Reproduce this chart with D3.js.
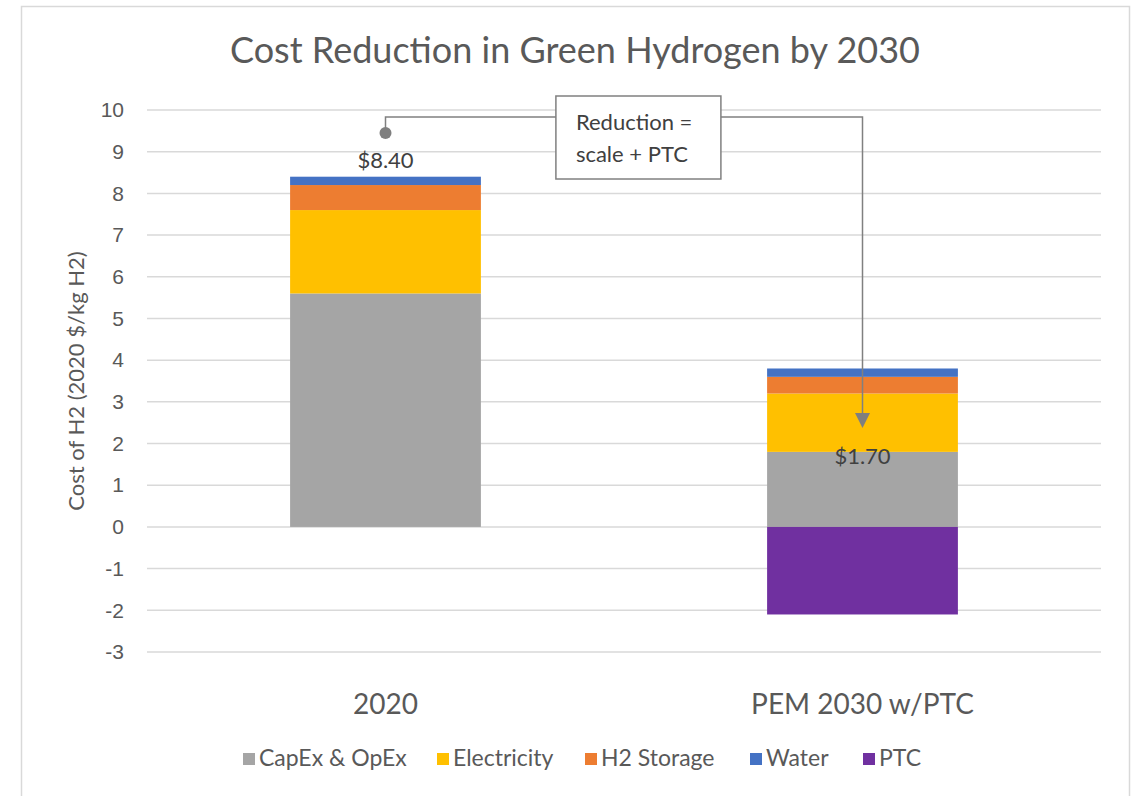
<!DOCTYPE html>
<html>
<head>
<meta charset="utf-8">
<script src="https://cdn.jsdelivr.net/npm/d3@7"></script>
<style>
  body { margin: 0; background: #fff; }
  svg { display: block; font-family: Lato, "Open Sans", sans-serif; }
</style>
</head>
<body>
<svg id="chart"></svg>
<script>
var categories = ["2020", "PEM 2030 w/PTC"];
var seriesNames = ["CapEx & OpEx", "Electricity", "H2 Storage", "Water", "PTC"];
var capex = [5.6, 1.8];
var electricity = [2.0, 1.4];
var storage = [0.6, 0.4];
var water = [0.2, 0.2];
var ptc = [0, -2.1];
var totalLabels = ["$8.40", "$1.70"];
var yTicks = [10, 9, 8, 7, 6, 5, 4, 3, 2, 1, 0, -1, -2, -3];
var colors = ["#a5a5a5", "#ffc000", "#ed7d31", "#4472c4", "#7030a0"];

var W = 1140, H = 796;
var margin = { top: 110, right: 39, bottom: 144, left: 147 },
  width = W - margin.left - margin.right,
  height = H - margin.top - margin.bottom;

var svg = d3.select("#chart").attr("width", W).attr("height", H);

// outer chart border
svg.append("rect")
  .attr("x", 21.5).attr("y", 6.5)
  .attr("width", 1108).attr("height", 800)
  .attr("fill", "none").attr("stroke", "#d9d9d9").attr("stroke-width", 1.5);

var g = svg.append("g")
  .attr("transform", "translate(" + margin.left + "," + margin.top + ")");

var x = d3.scaleBand()
  .domain(categories)
  .range([0, width])
  .paddingInner(0.6)
  .paddingOuter(0.3);
var y = d3.scaleLinear()
  .domain([-3, 10])
  .range([height, 0]);

// gridlines
g.append("g").selectAll("line")
    .data(yTicks)
  .enter().append("line")
    .attr("x1", 0).attr("x2", width)
    .attr("y1", function(d) { return y(d); })
    .attr("y2", function(d) { return y(d); })
    .attr("stroke", "#d9d9d9").attr("stroke-width", 1.5);

var yAxis = d3.axisLeft(y)
  .tickValues(yTicks)
  .tickFormat(function(d) { return String(d); })
  .tickSize(0).tickPadding(23);
g.append("g").call(yAxis)
  .call(function(a) { a.select(".domain").remove(); })
  .selectAll("text")
    .attr("fill", "#595959").style("font-size", "21px");

// stacked bars
var table = categories.map(function(c, i) {
  return { cat: c, vals: [capex[i], electricity[i], storage[i], water[i], ptc[i]] };
});
var rects = [];
table.forEach(function(row) {
  var pos = 0, neg = 0;
  row.vals.forEach(function(v, k) {
    if (v >= 0) { rects.push({ cat: row.cat, k: k, y0: pos, y1: pos + v }); pos += v; }
    else { rects.push({ cat: row.cat, k: k, y0: neg + v, y1: neg }); neg += v; }
  });
});
g.append("g").selectAll("rect")
    .data(rects.filter(function(d) { return d.y1 !== d.y0; }))
  .enter().append("rect")
    .attr("x", function(d) { return x(d.cat); })
    .attr("width", x.bandwidth())
    .attr("y", function(d) { return y(d.y1); })
    .attr("height", function(d) { return y(d.y0) - y(d.y1); })
    .attr("fill", function(d) { return colors[d.k]; });

// totals
var totals = table.map(function(r) { return d3.sum(r.vals); });
var labelShift = [-9, 8];
g.append("g").selectAll("text")
    .data(totals)
  .enter().append("text")
    .attr("x", function(d, i) { return x(categories[i]) + x.bandwidth() / 2; })
    .attr("y", function(d, i) { return y(d) + labelShift[i]; })
    .attr("text-anchor", "middle")
    .attr("fill", "#404040").style("font-size", "22px")
    .text(function(d, i) { return totalLabels[i]; });

// annotation: reduction arrow
var dotValue = 9.45, lineValue = 9.83, arrowValue = 2.37;
var cx0 = x(categories[0]) + x.bandwidth() / 2,
  cx1 = x(categories[1]) + x.bandwidth() / 2;
var ann = g.append("g");
ann.append("path")
  .attr("d", "M" + cx0 + "," + y(dotValue) + "V" + y(lineValue) + "H" + cx1 + "V" + (y(arrowValue) - 14))
  .attr("fill", "none").attr("stroke", "#808080").attr("stroke-width", 1.5);
ann.append("circle")
  .attr("cx", cx0).attr("cy", y(dotValue)).attr("r", 6)
  .attr("fill", "#7f7f7f");
ann.append("path")
  .attr("d", "M" + (cx1 - 7.5) + "," + (y(arrowValue) - 15) + "L" + (cx1 + 7.5) + "," + (y(arrowValue) - 15) + "L" + cx1 + "," + y(arrowValue) + "Z")
  .attr("fill", "#7f7f7f");

var box = ann.append("g")
  .attr("transform", "translate(" + (x(categories[0]) + x.bandwidth() + 75) + "," + (y(10) - 14) + ")");
box.append("rect")
  .attr("width", 165).attr("height", 83)
  .attr("fill", "#fff").attr("stroke", "#808080").attr("stroke-width", 1.5);
box.selectAll("text")
    .data(["Reduction =", "scale + PTC"])
  .enter().append("text")
    .attr("x", 20)
    .attr("y", function(d, i) { return 34 + i * 32; })
    .attr("fill", "#404040").style("font-size", "22px")
    .text(function(d) { return d; });

// x labels
g.append("g").selectAll("text")
    .data(categories)
  .enter().append("text")
    .attr("x", function(d) { return x(d) + x.bandwidth() / 2; })
    .attr("y", height + 62)
    .attr("text-anchor", "middle")
    .attr("fill", "#595959").style("font-size", "28px")
    .text(function(d) { return d; });

// y title
svg.append("text")
  .attr("transform", "translate(84," + (margin.top + height / 2) + ") rotate(-90)")
  .attr("text-anchor", "middle")
  .attr("fill", "#595959").style("font-size", "22px")
  .text("Cost of H2 (2020 $/kg H2)");

// title
svg.append("text")
  .attr("x", 575).attr("y", 63)
  .attr("text-anchor", "middle")
  .attr("fill", "#595959").style("font-size", "36px")
  .text("Cost Reduction in Green Hydrogen by 2030");

// legend
var legendX = [243, 437, 585, 750, 863];
var legend = svg.append("g").selectAll("g")
    .data(seriesNames)
  .enter().append("g")
    .attr("transform", function(d, i) { return "translate(" + legendX[i] + ",759)"; });
legend.append("rect")
  .attr("x", 0).attr("y", -6).attr("width", 12).attr("height", 12)
  .attr("fill", function(d, i) { return colors[i]; });
legend.append("text")
  .attr("x", 16).attr("y", 7)
  .attr("fill", "#595959").style("font-size", "23px")
  .text(function(d) { return d; });
</script>
</body>
</html>
